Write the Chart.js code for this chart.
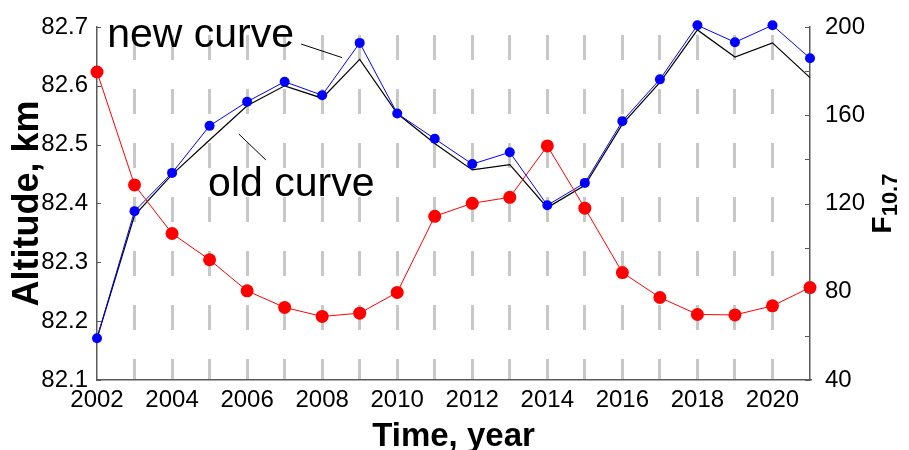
<!DOCTYPE html>
<html>
<head>
<meta charset="utf-8">
<script src="https://cdn.jsdelivr.net/npm/chart.js@4.4.1/dist/chart.umd.min.js"></script>
<style>
  html, body { margin: 0; padding: 0; background: #ffffff; }
  canvas { display: block; }
</style>
</head>
<body>
<canvas id="chart" width="909" height="450"></canvas>
<script>
// Annual values, 2002-2021
const years = [2002, 2003, 2004, 2005, 2006, 2007, 2008, 2009, 2010, 2011,
               2012, 2013, 2014, 2015, 2016, 2017, 2018, 2019, 2020, 2021];
// Altitude, km (new model)
const newCurve = [82.171, 82.387, 82.452, 82.532, 82.573, 82.607, 82.584, 82.673, 82.553, 82.510,
                  82.467, 82.487, 82.397, 82.435, 82.540, 82.611, 82.703, 82.674, 82.703, 82.647];
// Altitude, km (old model)
const oldCurve = [82.171, 82.380, 82.449, 82.508, 82.566, 82.600, 82.579, 82.645, 82.553, 82.502,
                  82.457, 82.466, 82.393, 82.431, 82.535, 82.606, 82.695, 82.649, 82.673, 82.614];
// Solar radio flux F10.7
const f107 = [179.6, 128.4, 106.4, 94.5, 80.4, 72.9, 68.8, 70.3, 79.7, 114.2,
              120.1, 122.8, 146.1, 117.9, 88.7, 77.4, 69.7, 69.5, 73.6, 81.9];

// Axis ticks
const xTickLabels = [2002, 2004, 2006, 2008, 2010, 2012, 2014, 2016, 2018, 2020];
const altTicks = [82.1, 82.2, 82.3, 82.4, 82.5, 82.6, 82.7];
const fTicks = [40, 60, 80, 100, 120, 140, 160, 180, 200];
const fTickLabels = [40, 80, 120, 160, 200];

const FONT = '"Liberation Sans", Arial, Helvetica, sans-serif';
const AXIS_COLOR = '#5a5a5a';

const toPoints = (vals) => years.map((yr, i) => ({ x: yr, y: vals[i] }));

// Titles, inward tick marks and curve labels
const decorations = {
  id: 'decorations',
  afterDraw(chart) {
    const { ctx, chartArea: a, scales } = chart;
    const sx = scales.x, sy = scales.y, sf = scales.y2;
    ctx.save();

    // inward tick marks on both vertical axes
    ctx.strokeStyle = AXIS_COLOR;
    ctx.lineWidth = 1.2;
    ctx.beginPath();
    sy.ticks.forEach(t => {
      const py = Math.round(sy.getPixelForValue(t.value)) + 0.5;
      ctx.moveTo(a.left, py); ctx.lineTo(a.left + 4, py);
    });
    sf.ticks.forEach(t => {
      const py = Math.round(sf.getPixelForValue(t.value)) + 0.5;
      ctx.moveTo(a.right, py); ctx.lineTo(a.right - 5, py);
    });
    ctx.stroke();

    ctx.fillStyle = '#000000';

    // curve labels with leader lines
    const notes = [
      { text: 'new curve', at: [2002.27, 82.666], from: [2007.44, 82.671], to: [2008.53, 82.648] },
      { text: 'old curve', at: [2004.96, 82.412], from: [2005.78, 82.518], to: [2006.50, 82.474] }
    ];
    ctx.font = '41px ' + FONT;
    ctx.textAlign = 'left';
    ctx.textBaseline = 'alphabetic';
    ctx.strokeStyle = '#000000';
    ctx.lineWidth = 1;
    notes.forEach(n => {
      ctx.fillText(n.text, sx.getPixelForValue(n.at[0]), sy.getPixelForValue(n.at[1]));
      ctx.beginPath();
      ctx.moveTo(sx.getPixelForValue(n.from[0]), sy.getPixelForValue(n.from[1]));
      ctx.lineTo(sx.getPixelForValue(n.to[0]), sy.getPixelForValue(n.to[1]));
      ctx.stroke();
    });

    const midY = (a.top + a.bottom) / 2;

    // left axis title
    ctx.save();
    ctx.translate(38, midY);
    ctx.rotate(-Math.PI / 2);
    ctx.font = 'bold 36px ' + FONT;
    ctx.textAlign = 'center';
    ctx.fillText('Altitude, km', 0, 0);
    ctx.restore();

    // bottom axis title
    ctx.font = 'bold 33px ' + FONT;
    ctx.textAlign = 'center';
    ctx.fillText('Time, year', (a.left + a.right) / 2, 446);

    // right axis title: F with subscript 10.7
    ctx.save();
    ctx.font = 'bold 28px ' + FONT;
    const wF = ctx.measureText('F').width;
    ctx.font = 'bold 22px ' + FONT;
    const wSub = ctx.measureText('10.7').width;
    ctx.translate(891, midY + (wF + wSub) / 2);
    ctx.rotate(-Math.PI / 2);
    ctx.textAlign = 'left';
    ctx.font = 'bold 28px ' + FONT;
    ctx.fillText('F', 0, 0);
    ctx.font = 'bold 22px ' + FONT;
    ctx.fillText('10.7', wF, 6);
    ctx.restore();

    ctx.restore();
  }
};

const tickFont = { family: FONT, size: 24, lineHeight: 1 };

new Chart(document.getElementById('chart'), {
  type: 'line',
  data: {
    datasets: [
      {
        label: 'F10.7',
        data: toPoints(f107),
        yAxisID: 'y2',
        borderColor: '#ff0000',
        backgroundColor: '#ff0000',
        borderWidth: 1,
        pointRadius: 6.5,
        pointBorderWidth: 0,
        pointBackgroundColor: '#ff0000',
        tension: 0,
        clip: false
      },
      {
        label: 'new curve',
        data: toPoints(newCurve),
        yAxisID: 'y',
        borderColor: '#0000ff',
        backgroundColor: '#0000ff',
        borderWidth: 1,
        pointRadius: 5,
        pointBorderWidth: 0,
        pointBackgroundColor: '#0000ff',
        tension: 0,
        clip: false
      },
      {
        label: 'old curve',
        data: toPoints(oldCurve),
        yAxisID: 'y',
        borderColor: '#000000',
        borderWidth: 1.2,
        pointRadius: 0,
        tension: 0,
        clip: false
      }
    ]
  },
  options: {
    responsive: false,
    animation: false,
    devicePixelRatio: 1,
    events: [],
    layout: { padding: { top: 24, left: 0, right: 0, bottom: 0 } },
    plugins: {
      legend: { display: false },
      tooltip: { enabled: false },
      title: { display: false }
    },
    scales: {
      x: {
        type: 'linear',
        position: 'bottom',
        min: 2002,
        max: 2021,
        afterFit: s => { s.height = 70; },
        afterBuildTicks: s => { s.ticks = years.map(v => ({ value: v })); },
        ticks: {
          autoSkip: false,
          maxRotation: 0,
          minRotation: 0,
          padding: 8,
          color: '#000000',
          font: tickFont,
          callback: v => (xTickLabels.includes(v) ? String(v) : '')
        },
        grid: {
          color: c => (c.tick && c.tick.value > 2002 && c.tick.value < 2021) ? '#c8c8c8' : 'rgba(0,0,0,0)',
          lineWidth: 3,
          drawTicks: false
        },
        border: { display: true, color: AXIS_COLOR, width: 1.5, dash: [25, 29], dashOffset: 46 }
      },
      y: {
        type: 'linear',
        position: 'left',
        min: 82.1,
        max: 82.7,
        afterFit: s => { s.width = 97; },
        afterBuildTicks: s => { s.ticks = altTicks.map(v => ({ value: v })); },
        ticks: {
          padding: 9,
          color: '#000000',
          font: tickFont,
          callback: v => Number(v).toFixed(1)
        },
        grid: { display: false, drawTicks: false },
        border: { display: true, color: AXIS_COLOR, width: 1.5 }
      },
      y2: {
        type: 'linear',
        position: 'right',
        min: 40,
        max: 200,
        afterFit: s => { s.width = 99; },
        afterBuildTicks: s => { s.ticks = fTicks.map(v => ({ value: v })); },
        ticks: {
          padding: 15,
          color: '#000000',
          font: tickFont,
          autoSkip: false,
          callback: v => (fTickLabels.includes(v) ? String(v) : '')
        },
        grid: { display: false, drawTicks: false },
        border: { display: true, color: AXIS_COLOR, width: 1.5 }
      }
    }
  },
  plugins: [decorations]
});
</script>
</body>
</html>
